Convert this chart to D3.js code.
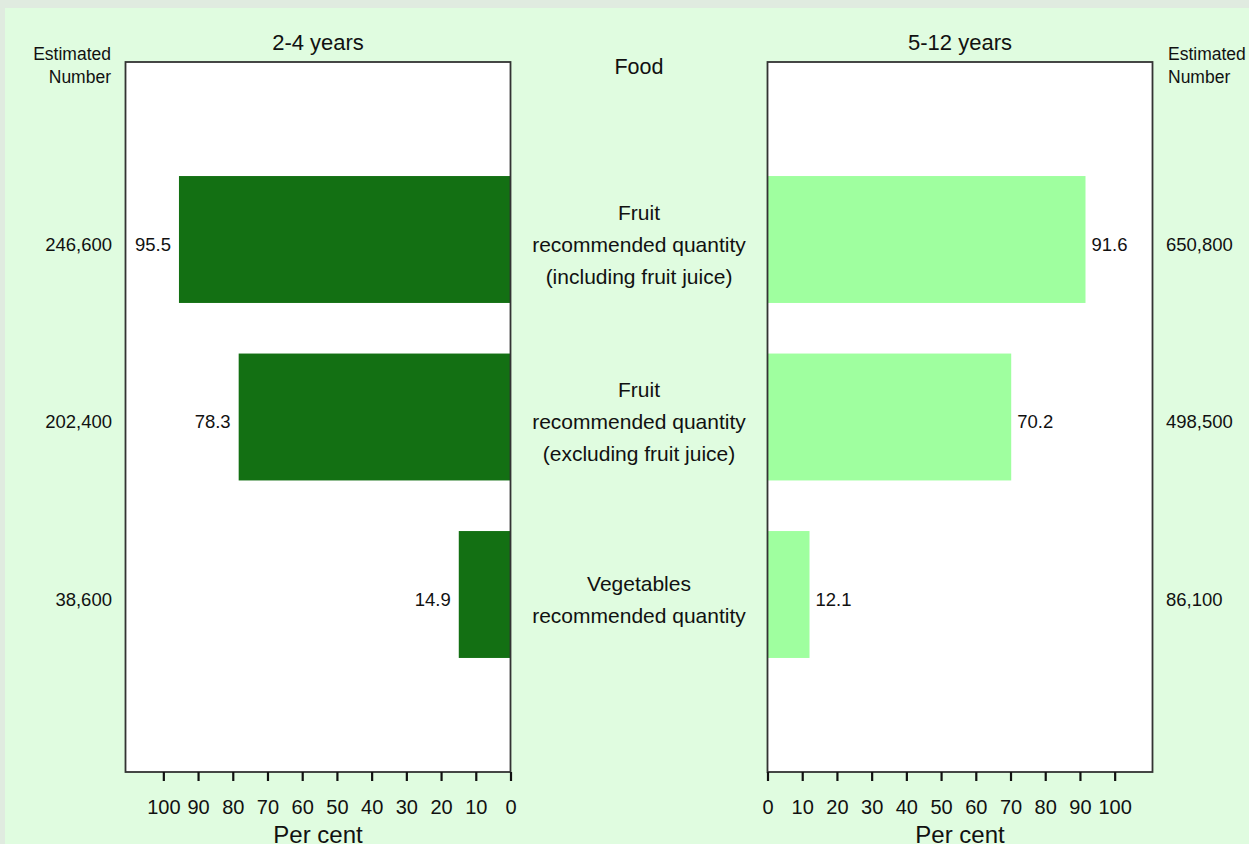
<!DOCTYPE html>
<html><head><meta charset="utf-8">
<script src="https://cdn.jsdelivr.net/npm/d3@7"></script>
<style>
html,body{margin:0;padding:0;background:#e0ebe0;}
svg{display:block;font-family:"Liberation Sans",Arial,sans-serif;}
</style></head>
<body>
<script>
const categories = [
  ["Fruit","recommended quantity","(including fruit juice)"],
  ["Fruit","recommended quantity","(excluding fruit juice)"],
  ["Vegetables","recommended quantity"]
];
const young = [95.5, 78.3, 14.9];
const older = [91.6, 70.2, 12.1];
const youngNumbers = ["246,600","202,400","38,600"];
const olderNumbers = ["650,800","498,500","86,100"];
const tickValues = [0,10,20,30,40,50,60,70,80,90,100];

const W = 1249, H = 844;
const FONT = "Liberation Sans, Arial, sans-serif";
const svg = d3.select("body").append("svg").attr("width", W).attr("height", H);
svg.append("rect").attr("x",0).attr("y",0).attr("width",W).attr("height",H).attr("fill","#e0ebe0");
svg.append("rect").attr("x",5).attr("y",8).attr("width",W).attr("height",H).attr("fill","#e0fce0");

const plotTop = 62, plotBottom = 772;
const y = d3.scaleLinear().domain([0,4]).range([plotTop,plotBottom]);
const barH = y(0.715) - y(0);
const dmax = 110.9;
const xL = d3.scaleLinear().domain([0,dmax]).range([510.5,125.5]);
const xR = d3.scaleLinear().domain([0,dmax]).range([767.5,1152.5]);

function panel(x, vals, color, title, labelSide) {
  const g = svg.append("g");
  const x0 = Math.min(x.range()[0],x.range()[1]);
  const pw = Math.abs(x.range()[1]-x.range()[0]);
  g.append("rect").attr("x", x0).attr("y", plotTop)
    .attr("width", pw).attr("height", plotBottom-plotTop).attr("fill","#fff");
  g.selectAll("rect.bar").data(vals).enter().append("rect").attr("class","bar")
    .attr("x", d => Math.min(x(0), x(d))).attr("width", d => Math.abs(x(d)-x(0)))
    .attr("y", (d,i) => y(i+1) - barH/2).attr("height", barH).attr("fill", color);
  g.append("rect").attr("x", x0).attr("y", plotTop)
    .attr("width", pw).attr("height", plotBottom-plotTop)
    .attr("fill","none").attr("stroke","#333").attr("stroke-width",1.8);
  const ax = g.append("g").attr("transform",`translate(0,${plotBottom})`)
    .call(d3.axisBottom(x).tickValues(tickValues).tickSize(9).tickPadding(19).tickSizeOuter(0));
  ax.select(".domain").remove();
  ax.selectAll(".tick line").attr("stroke","#111").attr("stroke-width",2.2);
  ax.selectAll(".tick text").attr("font-size",20).attr("fill","#111").attr("font-family",FONT);
  const cx = (x.range()[0]+x.range()[1])/2;
  g.append("text").attr("x",cx).attr("y",843).attr("text-anchor","middle")
    .attr("font-size",24).attr("fill","#111").text("Per cent");
  g.append("text").attr("x",cx).attr("y",50).attr("text-anchor","middle")
    .attr("font-size",22).attr("fill","#111").text(title);
  g.selectAll("text.val").data(vals).enter().append("text").attr("class","val")
    .attr("x", d => labelSide < 0 ? x(d) - 8 : x(d) + 6)
    .attr("y", (d,i) => y(i+1) + 11)
    .attr("text-anchor", labelSide < 0 ? "end" : "start")
    .attr("font-size",18.5).attr("fill","#111").text(d => d.toFixed(1));
}
panel(xL, young, "#137013", "2-4 years", -1);
panel(xR, older, "#9fff9f", "5-12 years", 1);

// Estimated numbers
svg.selectAll("text.nl").data(youngNumbers).enter().append("text").attr("class","nl")
  .attr("x",112).attr("y",(d,i)=>y(i+1)+11).attr("text-anchor","end")
  .attr("font-size",18.5).attr("fill","#111").text(d=>d);
svg.selectAll("text.nr").data(olderNumbers).enter().append("text").attr("class","nr")
  .attr("x",1166).attr("y",(d,i)=>y(i+1)+11).attr("text-anchor","start")
  .attr("font-size",18.5).attr("fill","#111").text(d=>d);
[["Estimated",60],["Number",83]].forEach(([t,yy])=>{
  svg.append("text").attr("x",111).attr("y",yy).attr("text-anchor","end")
    .attr("font-size",17.5).attr("fill","#111").text(t);
  svg.append("text").attr("x",1168).attr("y",yy).attr("text-anchor","start")
    .attr("font-size",17.5).attr("fill","#111").text(t);
});

// Centre labels
const cxm = 639;
svg.append("text").attr("x",cxm).attr("y",74).attr("text-anchor","middle")
  .attr("font-size",21.5).attr("fill","#111").text("Food");
categories.forEach((lines,i)=>{
  const n = lines.length;
  lines.forEach((t,j)=>{
    svg.append("text").attr("x",cxm)
      .attr("y", y(i+1) + 12 + (j-(n-1)/2)*32)
      .attr("text-anchor","middle").attr("font-size",21).attr("fill","#111").text(t);
  });
});
</script>
</body></html>
